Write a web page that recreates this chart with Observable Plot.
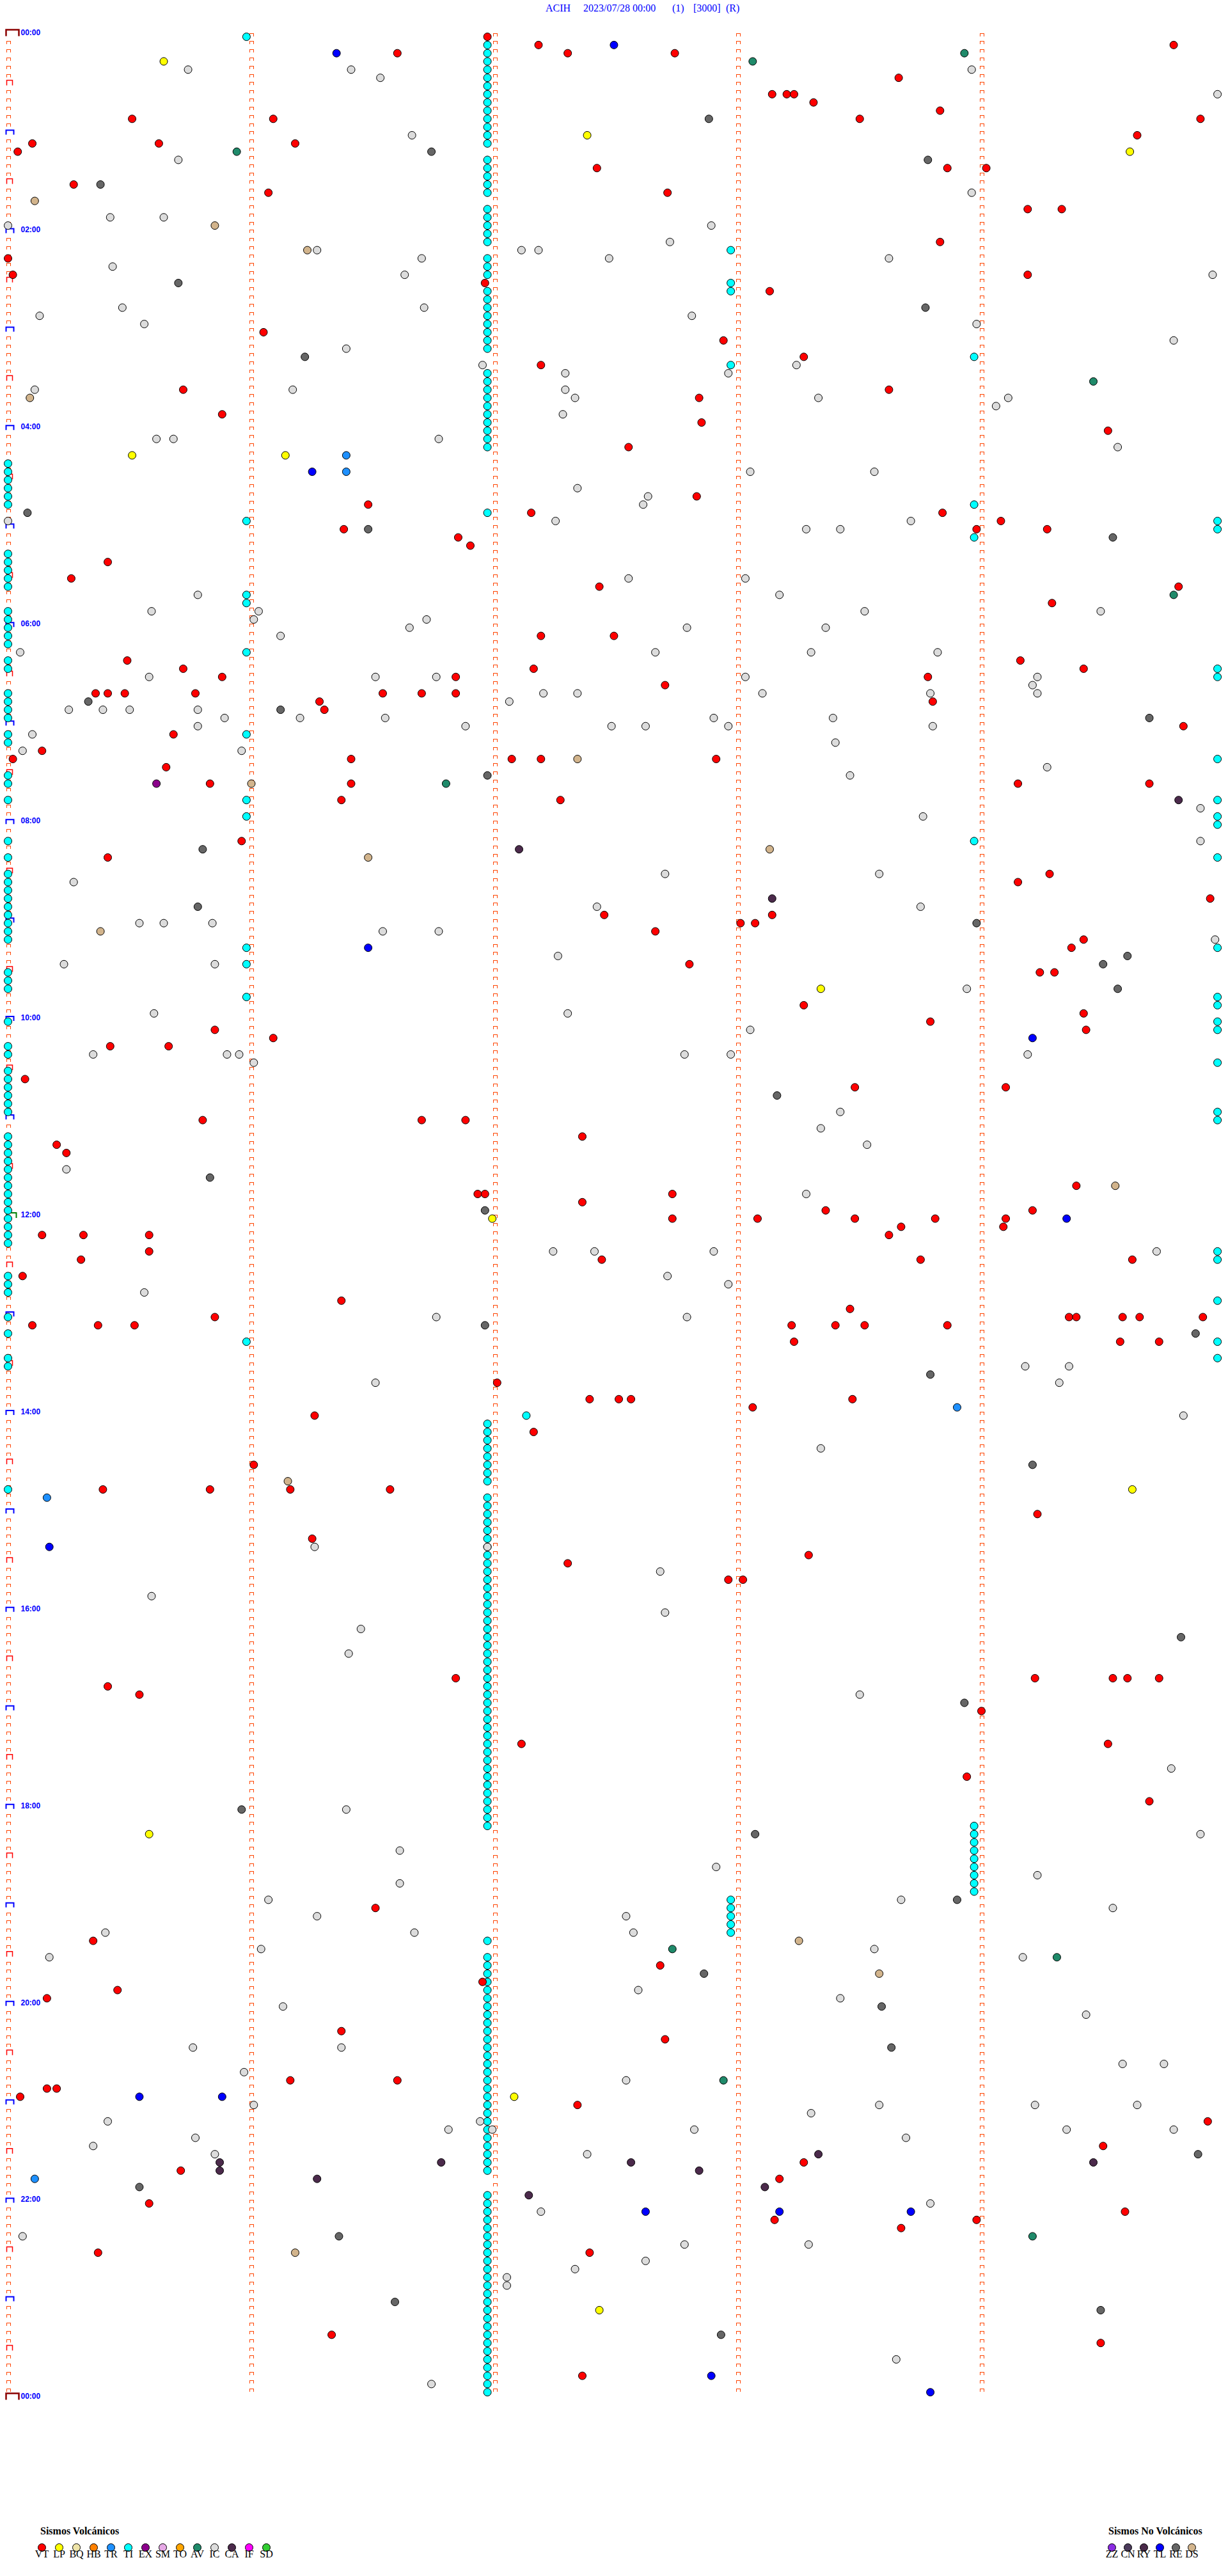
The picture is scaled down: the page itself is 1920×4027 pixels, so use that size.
<!DOCTYPE html>
<html><head><meta charset="utf-8">
<script src="https://cdn.jsdelivr.net/npm/d3@7"></script>
<script src="https://cdn.jsdelivr.net/npm/@observablehq/plot@0.6"></script>
<style>
body{margin:0;background:#fff;}
#wrap{position:relative;width:1920px;height:4027px;overflow:hidden;background:#fff;}
.t{position:absolute;top:5px;font-family:"Liberation Serif","Times New Roman",serif;font-size:16px;line-height:16px;color:#0000ff;white-space:pre;}
.lt{position:absolute;top:3949px;font-family:"Liberation Serif","Times New Roman",serif;font-weight:bold;font-size:16px;line-height:16px;color:#000;white-space:pre;}
.abs{position:absolute;}
</style></head><body><div id="wrap"></div>
<script>
// ---- title ----
const titleParts = ["ACIH", "2023/07/28 00:00", "(1)", "[3000]", "(R)"];
const titleLeft = [853, 912, 1051, 1084, 1135];

// ---- legend ----
const volcCodes = ["VT","LP","BQ","HB","TR","TI","EX","SM","TO","AV","IC","CA","IF","SD"];
const volcColors = ["#FF0000","#FFFF00","#EEE4A8","#FF8000","#1E90FF","#00FFFF","#8B008B","#E6A8E6","#FFA500","#1F8A6A","#DCDCDC","#4B2A4B","#FF00FF","#32CD32"];
const nonCodes = ["ZZ","CN","RY","TL","RE","DS"];
const nonColors = ["#8A2BE2","#4B3B5B","#4A2A4A","#0000FF","#666666","#D2B48C"];

// ---- hour labels (every two hours) ----
const hourLabels = ["00:00","02:00","04:00","06:00","08:00","10:00","12:00","14:00","16:00","18:00","20:00","22:00","00:00"];

// ---- events: minutes since 00:00 ----
const TI = [0.98, 6.97, 11.97, 16.97, 21.97, 26.97, 31.97, 36.97, 41.97, 46.97, 51.97, 56.97, 61.97, 66.97,
 76.97, 81.97, 86.97, 91.97, 96.97, 106.97, 111.97, 116.97, 121.97, 126.97, 132.97, 136.97, 141.97, 146.97,
 152.97, 156.97, 157.97, 161.97, 166.97, 171.97, 176.97, 181.97, 186.97, 191.97, 198.97, 202.97,
 206.97, 211.97, 216.97, 221.97, 226.97, 231.97, 236.97, 241.97, 246.97, 251.97,
 260, 265, 270, 275, 280, 285, 288.97, 291.97, 295.98, 299.97, 304.97, 308.97, 315, 320, 325, 330, 335,
 340.98, 345.98, 350, 355, 360, 365, 370, 375.98, 380, 385, 389.97, 394.97, 400, 405, 410, 415,
 425, 425.98, 430, 444.97, 450, 455, 465, 465.98, 469.97, 475.98, 479.97, 484.97, 490, 493.97, 500, 504.97,
 510, 515, 520, 525, 530, 535, 540, 545, 550, 555.98, 559.97, 565.98, 570, 575, 580, 585.98, 589.97, 594.97,
 600, 604.97, 609.97, 615, 620, 629.97, 630, 635, 640, 645, 650, 655, 659.97, 664.97,
 670, 675, 680, 685, 690, 695, 700, 705, 710, 715, 720, 725, 730, 735, 744.97, 749.97,
 755, 760, 765, 774.97, 780, 790, 795.98, 799.97, 805, 809.97, 810, 842.13,
 846.97, 851.97, 856.97, 861.97, 866.97, 871.97, 876.97, 881.97, 885,
 891.97, 896.97, 901.97, 906.97, 911.97, 916.97, 921.97, 926.97, 931.97, 936.97, 941.97, 946.97, 951.97,
 956.97, 961.97, 966.97, 971.97, 976.97, 981.97, 986.97, 991.97, 996.97, 1001.97, 1006.97, 1011.97,
 1016.97, 1021.97, 1026.97, 1031.97, 1036.97, 1041.97, 1046.97, 1051.97, 1056.97, 1061.97, 1066.97,
 1071.97, 1076.97, 1081.97, 1086.97, 1091.97, 1093.97, 1098.97, 1103.97, 1108.97, 1113.97, 1118.97,
 1123.97, 1128.97, 1133.97, 1137.97, 1142.97, 1147.97, 1152.97, 1157.97, 1161.97,
 1171.97, 1176.97, 1181.97, 1186.97, 1191.97, 1196.97, 1201.97, 1206.97, 1211.97, 1216.97, 1221.97,
 1226.97, 1231.97, 1236.97, 1241.97, 1246.97, 1251.97, 1256.97, 1261.97, 1266.97, 1271.97, 1276.97,
 1281.97, 1286.97, 1291.97, 1296.97, 1301.97,
 1316.97, 1321.97, 1326.97, 1331.97, 1336.97, 1341.97, 1346.97, 1351.97, 1356.97, 1361.97, 1366.97,
 1371.97, 1376.97, 1381.97, 1386.97, 1391.97, 1396.97, 1401.97, 1406.97, 1411.97, 1416.97, 1421.97,
 1426.97, 1431.97, 1436.97];
const VT = [1.97, 7.18, 9.79, 11.60, 12.30, 12.74, 28.66, 38.14, 38.20, 38.23, 43.31, 48.83, 50.51, 51.09, 53.50, 54.90,
 64.64, 65.10, 65.62, 66.18, 70.04, 82.42, 83.86, 84.02, 90.27, 96.07, 97.71, 109.19, 109.33, 128.83, 135.00,
 145.02, 149.19, 151.96, 158.13, 181.05, 187.94, 198.27, 202.19, 215.72, 218.62, 222.84, 230.88, 237.85,
 244.52, 252.55, 282.83, 286.48, 292.15, 293.84, 299.08, 301.38, 303.98, 304.27, 306.85, 311.90, 320.41,
 330.26, 337.43, 339.81, 349.29, 367.19, 367.49, 380.49, 384.16, 385.72, 387.16, 389.42, 390.88, 391.84,
 393.78, 397.70, 400.36, 400.41, 400.48, 400.77, 401.54, 401.70, 401.84, 406.28, 408.80, 411.30, 424.83,
 425.68, 435.14, 440.02, 441.41, 442.07, 442.19, 442.91, 445.65, 455.83, 456.41, 459.15, 459.69, 466.37,
 467.27, 490.96, 500.41, 514.28, 519.15, 529.94, 537.45, 538.14, 543.01, 543.07, 547.66, 554.42, 559.37,
 567.80, 574.24, 574.30, 593.27, 599.42, 603.79, 605.85, 609.43, 611.09, 615.42, 615.66, 635.07, 643.48,
 644.10, 660.80, 661.70, 661.88, 672.36, 675.20, 680.24, 704.39, 706.93, 706.96, 707.73, 712.36, 718.36,
 719.21, 722.73, 723.08, 723.48, 723.81, 724.10, 728.67, 729.09, 730.14, 730.31, 730.58, 733.62, 740.58,
 745.30, 747.44, 748.75, 749.62, 755.06, 771.37, 778.46, 780.85, 784.36, 784.39, 784.58, 784.65, 784.91,
 785.10, 785.37, 785.52, 788.22, 788.40, 788.52, 788.86, 798.23, 799.57, 799.73, 822.01, 832.39, 832.51,
 832.56, 833.47, 838.06, 841.26, 852.16, 871.01, 885.39, 885.83, 886.16, 886.57, 904.23, 916.25, 928.29,
 932.30, 942.96, 943.02, 1001.84, 1004.22, 1004.54, 1004.60, 1004.73, 1005.41, 1010.54, 1024.00, 1042.11,
 1044.52, 1063.94, 1079.69, 1141.51, 1160.35, 1177.68, 1186.95, 1190.45, 1195.16, 1216.37, 1222.70,
 1246.16, 1246.60, 1250.16, 1250.20, 1255.05, 1262.34, 1274.93, 1289.50, 1298.27, 1300.71, 1308.17,
 1320.58, 1329.59, 1333.15, 1333.98, 1338.67, 1350.37, 1352.39, 1401.33, 1409.49, 1427.36];
const LP = [15.64, 62.38, 74.61, 255.51, 256.14, 583.34, 721.99, 889.62, 1095.58, 1257.08, 1387.43];
const IC = [20.74, 21.41, 23.96, 26.53, 39.97, 61.66, 75.70, 98.96, 110.42, 110.64, 115.00, 117.89, 127.72,
 131.27, 132.11, 132.18, 136.70, 137.47, 138.62, 140.43, 146.63, 149.95, 165.47, 166.71, 170.13, 172.81,
 175.56, 178.98, 189.79, 191.39, 201.95, 203.24, 207.29, 207.96, 215.11, 216.17, 217.29, 222.33, 223.33,
 224.11, 229.06, 232.28, 245.61, 245.68, 246.77, 254.56, 268.05, 268.56, 277.34, 282.63, 287.61, 295.00,
 297.25, 298.71, 303.28, 303.42, 332.55, 333.03, 340.78, 343.17, 350.59, 351.03, 353.52, 354.49, 356.01,
 356.72, 361.65, 362.79, 363.36, 366.12, 375.05, 377.66, 378.30, 378.82, 390.58, 391.51, 391.76, 393.03,
 394.23, 399.21, 402.20, 402.34, 403.10, 403.79, 404.23, 407.06, 410.25, 410.39, 410.50, 410.78, 415.89,
 416.20, 416.55, 417.90, 418.39, 420.78, 421.88, 422.48, 422.62, 422.96, 423.80, 425.10, 433.40, 435.06,
 435.96, 449.27, 453.46, 474.90, 478.76, 494.90, 512.70, 513.58, 515.27, 532.42, 533.75, 540.54, 540.64,
 540.84, 546.54, 546.77, 554.96, 562.26, 565.23, 565.85, 583.94, 595.60, 597.30, 608.05, 620.35, 620.90,
 620.95, 622.78, 622.97, 624.19, 626.01, 658.42, 668.34, 678.53, 690.24, 708.28, 742.24, 742.41, 742.90,
 744.72, 757.71, 762.96, 765.56, 781.76, 782.79, 814.18, 814.36, 821.51, 824.32, 844.83, 863.34, 921.26,
 921.97, 937.68, 950.59, 962.70, 971.45, 986.40, 1013.50, 1059.78, 1081.39, 1099.90, 1106.61, 1117.91,
 1124.23, 1126.61, 1136.07, 1138.67, 1144.54, 1146.27, 1147.54, 1155.40, 1156.67, 1157.57, 1166.04,
 1168.56, 1170.17, 1174.17, 1192.59, 1198.42, 1201.13, 1209.43, 1225.76, 1226.37, 1239.58, 1239.75,
 1240.97, 1247.54, 1261.01, 1263.58, 1264.22, 1264.64, 1268.30, 1270.41, 1271.94, 1276.81, 1276.99,
 1277.82, 1279.35, 1279.79, 1280.77, 1283.69, 1285.35, 1290.85, 1292.38, 1323.79, 1327.19, 1340.06,
 1347.78, 1348.29, 1357.62, 1362.33, 1367.05, 1372.05, 1418.65, 1431.74];
const RE = [52.88, 71.74, 78.78, 90.38, 150.70, 168.77, 196.22, 290.08, 301.48, 309.54, 405.33, 411.12, 419.69,
 451.97, 495.80, 530.78, 543.98, 564.60, 569.50, 584.56, 648.16, 695.83, 716.96, 786.96, 794.88, 818.79,
 874.21, 979.82, 1018.93, 1080.96, 1098.07, 1138.90, 1182.86, 1203.59, 1228.63, 1294.89, 1310.54, 1341.36,
 1381.59, 1389.49, 1402.93];
const TL = [7.49, 11.35, 266.25, 556.48, 614.21, 724.35, 920.17, 1255.54, 1255.88, 1327.62, 1328.17, 1328.71, 1427.89, 1438.79];
const TR = [256.39, 266.39, 838.90, 890.16, 1305.11];
const DS = [100.11, 115.85, 131.23, 220.09, 442.34, 456.00, 498.13, 501.48, 545.38, 704.55, 881.15, 1163.25, 1183.58, 1351.18];
const AV = [13.93, 18.06, 70.94, 214.46, 344.79, 456.80, 1167.73, 1174.31, 1247.94, 1344.21];
const CA = [469.81, 497.10, 528.14, 1293.33, 1295.87, 1296.78, 1297.56, 1299.46, 1300.87, 1302.84, 1306.27, 1313.11, 1317.14];
const EX = [455.61];

// ---- build ----
const series = {TI, IC, RE, DS, AV, TR, TL, CA, EX, LP, VT};
const events = [];
for (const [type, arr] of Object.entries(series)) for (const t of arr) events.push({type, t});

const allCodes = volcCodes.concat(nonCodes);
const allColors = volcColors.concat(nonColors);
const colorScale = {domain: allCodes, range: allColors};

function cap(w, h) {
  return {draw(ctx) { ctx.moveTo(-w / 2, 0); ctx.lineTo(-w / 2, -h); ctx.lineTo(w / 2, -h); ctx.lineTo(w / 2, 0); }};
}

const ROWS = 288;
const cols = [0, 1, 2, 3, 4];
const markers = [];
for (const r of d3.range(ROWS)) for (const c of cols) if (!(c === 0 && r % 6 === 0)) markers.push({row: r, col: c});
const hourRows = d3.range(12, ROWS, 12).filter(r => r !== 144);
const halfRows = d3.range(6, ROWS, 12);
const labels = hourLabels.map((label, i) => ({label, row: i * 24}));

const font = "'Liberation Sans', Arial, sans-serif";
const main = Plot.plot({
  width: 1920, height: 3800, margin: 0,
  style: {background: "transparent", overflow: "visible"},
  x: {domain: [0, 5], range: [12, 1914.5], axis: null},
  y: {domain: [0, ROWS], range: [57, 57 + 12.83 * ROWS], axis: null},
  color: colorScale,
  marks: [
    Plot.dot(markers, {x: "col", y: "row", symbol: cap(6, 4.5), stroke: "#FF4500", fill: "none", strokeWidth: 1, dx: 0.5, dy: -1, shapeRendering: "crispEdges"}),
    Plot.dot(hourRows, {x: () => 0, y: d => d, symbol: cap(12, 7), stroke: "#0000FF", fill: "none", strokeWidth: 2, dx: 3, dy: -1}),
    Plot.dot(halfRows, {x: () => 0, y: d => d, symbol: cap(9, 8), stroke: "#FF0000", fill: "none", strokeWidth: 1.5, dx: 2.5, dy: -1}),
    Plot.dot([144], {x: () => 0, y: d => d, symbol: cap(15, 8), stroke: "#008000", fill: "none", strokeWidth: 2, dx: 5.5, dy: -1}),
    Plot.dot([0, ROWS], {x: () => 0, y: d => d, symbol: cap(20, 10), stroke: "#8B0000", fill: "none", strokeWidth: 2.5, dx: 7, dy: -1}),
    Plot.text(labels, {x: () => 0, y: "row", text: "label", dx: 20, dy: -6, textAnchor: "start", fill: "#0000FF", fontWeight: "bold", fontSize: 12, fontFamily: font}),
    Plot.dot(events, {x: d => d.t % 5, y: d => Math.floor(d.t / 5), fill: "type", r: 6, stroke: "#000", strokeWidth: 1})
  ]
});
const wrap = document.getElementById("wrap");
main.classList.add("abs"); main.style.left = "0px"; main.style.top = "0px";
wrap.appendChild(main);

titleParts.forEach((s, i) => {
  const d = document.createElement("div"); d.className = "t"; d.textContent = s; d.style.left = titleLeft[i] + "px"; wrap.appendChild(d);
});

function legend(codes, width, range) {
  return Plot.plot({
    width, height: 60, margin: 0,
    style: {background: "transparent", overflow: "visible"},
    x: {type: "point", domain: codes, range, axis: null},
    y: {type: "point", domain: ["dot", "label"], range: [20, 40], axis: null},
    color: colorScale,
    marks: [
      Plot.dot(codes, {x: d => d, y: () => "dot", fill: d => d, r: 6, stroke: "#000", strokeWidth: 1}),
      Plot.text(codes, {x: d => d, y: () => "label", text: d => d, fontSize: 16, fontFamily: "'Liberation Serif', 'Times New Roman', serif", fill: "#000"})
    ]
  });
}
const lv = legend(volcCodes, 480, [45, 435]);
lv.classList.add("abs"); lv.style.left = "0px"; lv.style.top = "3957px"; wrap.appendChild(lv);
const ln = legend(nonCodes, 220, [25, 175]);
ln.classList.add("abs"); ln.style.left = "1700px"; ln.style.top = "3957px"; wrap.appendChild(ln);

const t1 = document.createElement("div"); t1.className = "lt"; t1.textContent = "Sismos Volcánicos"; t1.style.left = "63px"; wrap.appendChild(t1);
const t2 = document.createElement("div"); t2.className = "lt"; t2.textContent = "Sismos No Volcánicos"; t2.style.left = "1733px"; wrap.appendChild(t2);
</script></body></html>
